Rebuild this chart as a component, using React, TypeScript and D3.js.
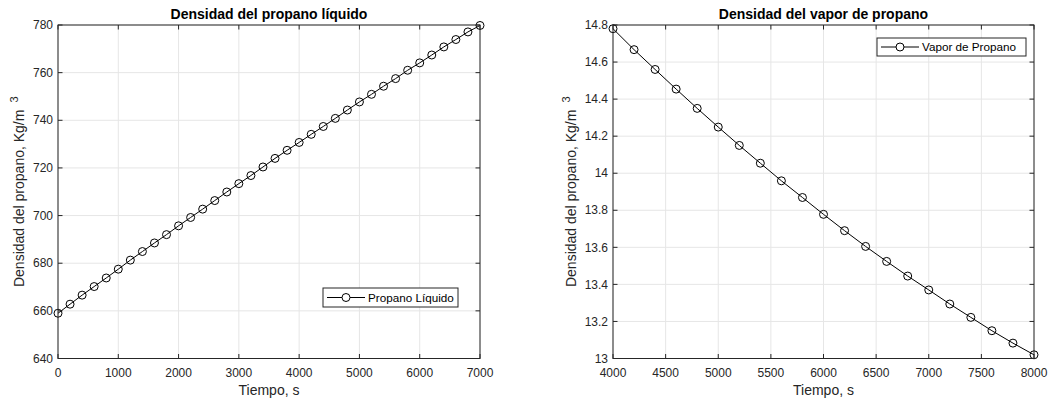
import React from "react";
import * as d3 from "d3";

const liqTime = [0,200,400,600,800,1000,1200,1400,1600,1800,2000,2200,2400,2600,2800,3000,3200,3400,3600,3800,4000,4200,4400,4600,4800,5000,5200,5400,5600,5800,6000,6200,6400,6600,6800,7000];
const liqDensity = [659.0,662.8,666.6,670.2,673.8,677.5,681.3,684.9,688.5,692.0,695.7,699.2,702.7,706.3,709.9,713.4,716.8,720.4,724.0,727.4,730.7,734.1,737.4,740.8,744.3,747.7,750.9,754.3,757.5,761.0,764.1,767.4,770.8,773.9,777.1,779.8];

const vapTime = [4000,4200,4400,4600,4800,5000,5200,5400,5600,5800,6000,6200,6400,6600,6800,7000,7200,7400,7600,7800,8000];
const vapDensity = [14.78,14.667,14.56,14.454,14.35,14.249,14.15,14.054,13.959,13.869,13.778,13.69,13.605,13.524,13.445,13.37,13.294,13.222,13.15,13.083,13.02];

const liqXTicks = [0,1000,2000,3000,4000,5000,6000,7000];
const liqYTicks = [640,660,680,700,720,740,760,780];
const vapXTicks = [4000,4500,5000,5500,6000,6500,7000,7500,8000];
const vapYTicks = [13,13.2,13.4,13.6,13.8,14,14.2,14.4,14.6,14.8];

const FONT = "'Liberation Sans', Arial, Helvetica, sans-serif";
const AX = "#262626";
const GRID = "#e6e6e6";

type PanelProps = {
  left: number; right: number; top: number; bottom: number;
  xDomain: [number, number]; yDomain: [number, number];
  xTicks: number[]; yTicks: number[];
  xs: number[]; ys: number[];
  title: string; ylabelX: number;
  legend: { x0: number; x1: number; y0: number; y1: number; text: string };
};

function Panel(p: PanelProps) {
  const x = d3.scaleLinear().domain(p.xDomain).range([p.left, p.right]);
  const y = d3.scaleLinear().domain(p.yDomain).range([p.bottom, p.top]);
  const pts = p.xs.map((v, i) => [x(v), y(p.ys[i])] as [number, number]);
  const line = d3.line()(pts) || "";
  const fmt = (v: number) => String(+v.toFixed(2));
  const tl = 4.5;
  const cx = (p.left + p.right) / 2;
  const cy = (p.top + p.bottom) / 2;
  const L = p.legend;
  const ly = (L.y0 + L.y1) / 2;
  return (
    <g fontFamily={FONT}>
      {p.xTicks.map((t) => (
        <line key={"gx" + t} x1={x(t)} x2={x(t)} y1={p.top} y2={p.bottom} stroke={GRID} strokeWidth={1} />
      ))}
      {p.yTicks.map((t) => (
        <line key={"gy" + t} x1={p.left} x2={p.right} y1={y(t)} y2={y(t)} stroke={GRID} strokeWidth={1} />
      ))}
      <path d={line} fill="none" stroke="#000" strokeWidth={1} />
      {pts.map((pt, i) => (
        <circle key={i} cx={pt[0]} cy={pt[1]} r={4} fill="none" stroke="#000" strokeWidth={1} />
      ))}
      <rect x={p.left} y={p.top} width={p.right - p.left} height={p.bottom - p.top} fill="none" stroke={AX} strokeWidth={1} />
      {p.xTicks.map((t) => (
        <g key={"tx" + t}>
          <line x1={x(t)} x2={x(t)} y1={p.bottom} y2={p.bottom - tl} stroke={AX} />
          <line x1={x(t)} x2={x(t)} y1={p.top} y2={p.top + tl} stroke={AX} />
          <text x={x(t)} y={p.bottom + 18.5} textAnchor="middle" fontSize={12} fill={AX}>{fmt(t)}</text>
        </g>
      ))}
      {p.yTicks.map((t) => (
        <g key={"ty" + t}>
          <line x1={p.left} x2={p.left + tl} y1={y(t)} y2={y(t)} stroke={AX} />
          <line x1={p.right} x2={p.right - tl} y1={y(t)} y2={y(t)} stroke={AX} />
          <text x={p.left - 5} y={y(t) + 4.2} textAnchor="end" fontSize={12} fill={AX}>{fmt(t)}</text>
        </g>
      ))}
      <text x={cx} y={18.5} textAnchor="middle" fontSize={14} fontWeight="bold" fill="#000">{p.title}</text>
      <text x={cx} y={p.bottom + 36} textAnchor="middle" fontSize={14} fill={AX}>Tiempo, s</text>
      <text transform={`translate(${p.ylabelX},${cy}) rotate(-90)`} textAnchor="middle" fontSize={14} fill={AX}>
        Densidad del propano, Kg/m<tspan fontSize={11} dx={7} dy={-6}>3</tspan>
      </text>
      <rect x={L.x0} y={L.y0} width={L.x1 - L.x0} height={L.y1 - L.y0} fill="#fff" stroke={AX} strokeWidth={1} />
      <line x1={L.x0 + 4} x2={L.x0 + 42} y1={ly} y2={ly} stroke="#000" />
      <circle cx={L.x0 + 23} cy={ly} r={4} fill="#fff" stroke="#000" />
      <text x={L.x0 + 45} y={ly + 4.2} fontSize={11.7} fill="#000">{L.text}</text>
    </g>
  );
}

export default function App() {
  return (
    <svg width={1049} height={402} style={{ position: "absolute", left: 0, top: 0, background: "#fff" }}>
      <rect width={1049} height={402} fill="#fff" />
      <Panel
        left={58} right={480} top={25} bottom={358.5}
        xDomain={[0, 7000]} yDomain={[640, 780]}
        xTicks={liqXTicks} yTicks={liqYTicks}
        xs={liqTime} ys={liqDensity}
        title="Densidad del propano líquido" ylabelX={24}
        legend={{ x0: 323, x1: 458, y0: 288, y1: 307, text: "Propano Líquido" }}
      />
      <Panel
        left={613} right={1034} top={25} bottom={358.5}
        xDomain={[4000, 8000]} yDomain={[13, 14.8]}
        xTicks={vapXTicks} yTicks={vapYTicks}
        xs={vapTime} ys={vapDensity}
        title="Densidad del vapor de propano" ylabelX={576}
        legend={{ x0: 877, x1: 1026, y0: 38, y1: 56, text: "Vapor de Propano" }}
      />
    </svg>
  );
}
